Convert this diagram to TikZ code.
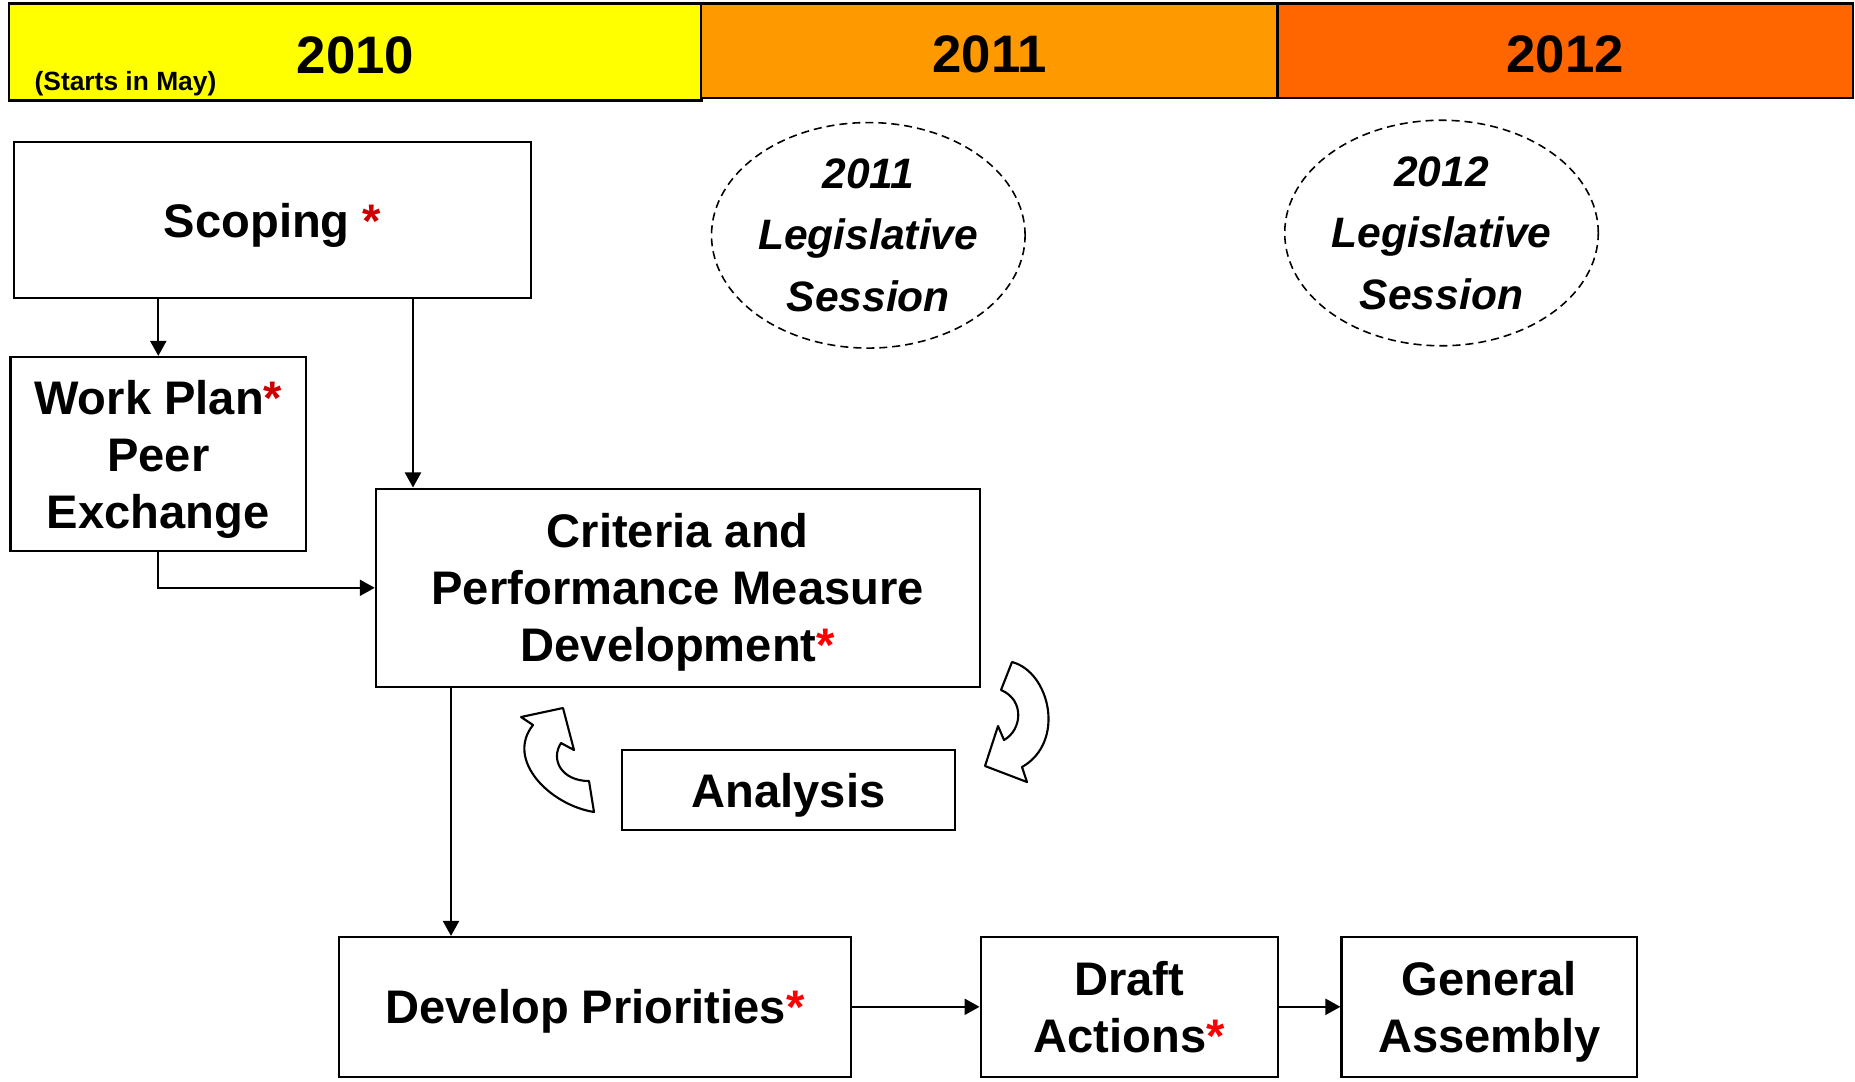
\documentclass[tikz,border=0pt]{standalone}
\usepackage{fontspec}
\setmainfont{Liberation Sans}
\usepackage{tikz}
\usetikzlibrary{positioning}
\usetikzlibrary{arrows.meta,shapes.geometric}

\definecolor{yrten}{HTML}{FFFF00}
\definecolor{yreleven}{HTML}{FF9900}
\definecolor{yrtwelve}{HTML}{FF6600}
\definecolor{darkstar}{HTML}{CC0000}
\definecolor{brightstar}{HTML}{FF0000}

\newcommand{\reqmark}{{\color{brightstar}*}}
\newcommand{\reqmarkdark}{{\color{darkstar}*}}

\begin{document}
\begin{tikzpicture}	[
		x=0.01cm, y=-0.01cm,
		bar/.style={draw, line width=0.6pt, inner sep=0, text height=12.2pt, text depth=0pt, font=\fontsize{15}{17}\selectfont\bfseries},
		stage/.style={draw, line width=0.6pt, inner sep=0, align=center, text depth=0pt, font=\fontsize{13.4}{16.2}\selectfont\bfseries},
		session/.style={ellipse, draw, dash pattern=on 0.08cm off 0.05cm, line width=0.45pt, inner sep=0, align=center, minimum width=3.134cm, minimum height=2.254cm, font=\fontsize{12.1}{17.5}\selectfont\bfseries\itshape},
		flow/.style={line width=0.6pt, -{Triangle[length=0.15cm, width=0.16cm]}},
		turn/.style={draw, fill=white, line width=0.6pt, line join=round}
	]
		\useasboundingbox (0,0) rectangle (1855,1081);

		% timeline
		\node[bar, fill=yrten, minimum width=6.92cm, minimum height=0.97cm] (y10) at (355.5,52) {2010};
		\node[bar, fill=yreleven, minimum width=5.761cm, minimum height=0.945cm] (y11) at (989.55,50.75) {2011};
		\node[bar, fill=yrtwelve, minimum width=5.75cm, minimum height=0.945cm] (y12) at (1565.1,50.75) {2012};
		\node[inner sep=0, font=\fontsize{7.5}{9}\selectfont\bfseries] (start) at (125.5,83.5) {(Starts in May)};

		\node[session] (s11) at (868.3,235.3) {2011\\Legislative\\Session};
		\node[session] (s12) at (1441.5,233) {2012\\Legislative\\Session};

		% stages
		\node[stage, minimum width=5.17cm, minimum height=1.56cm] (scope) at (272.5,220) {Scoping \reqmarkdark};
		\node[stage, minimum width=2.954cm, minimum height=1.94cm] (plan) at (158.3,454) {Work Plan\reqmarkdark\\Peer\\Exchange};
		\node[stage, minimum width=6.035cm, minimum height=1.984cm] (crit) at (677.75,587.8) {Criteria and\\Performance Measure\\Development\reqmark};
		\node[stage, minimum width=3.33cm, minimum height=0.8cm] (anal) at (788.5,790) {Analysis};
		\node[stage, minimum width=5.11cm, minimum height=1.396cm] (prio) at (595,1006.8) {Develop Priorities\reqmark};
		\node[stage, minimum width=2.97cm, minimum height=1.396cm] (draft) at (1129.2,1006.8) {Draft\\Actions\reqmark};
		\node[stage, minimum width=2.955cm, minimum height=1.396cm] (assembly) at (1489.3,1006.8) {General\\Assembly};

		\coordinate (tapA) at (413,0);
		\coordinate (tapB) at (451,0);

		\draw[flow] (scope.south -| plan.north) -- (plan.north);
		\draw[flow] (scope.south -| tapA) -- (crit.north -| tapA);
		\draw[flow] (plan.south) |- (crit.west);
		\draw[flow] (crit.south -| tapB) -- (prio.north -| tapB);
		\draw[flow] (prio) -- (draft);
		\draw[flow] (draft) -- (assembly);

		% analysis loop
		\draw[turn] (521,717) -- (563,708) -- (574,750) -- (561,743)
			.. controls (550,760) and (562,781) .. (589,781) -- (594,812)
			.. controls (550,805) and (505,760) .. (533,725) -- cycle;
		\draw[turn] (1012,662) .. controls (1050,672) and (1066,742) .. (1022,767)
			-- (1027,782) -- (985,766) -- (998,726) -- (1004,740)
			.. controls (1022,730) and (1025,700) .. (1001,690) -- cycle;
	\end{tikzpicture}
\end{document}
